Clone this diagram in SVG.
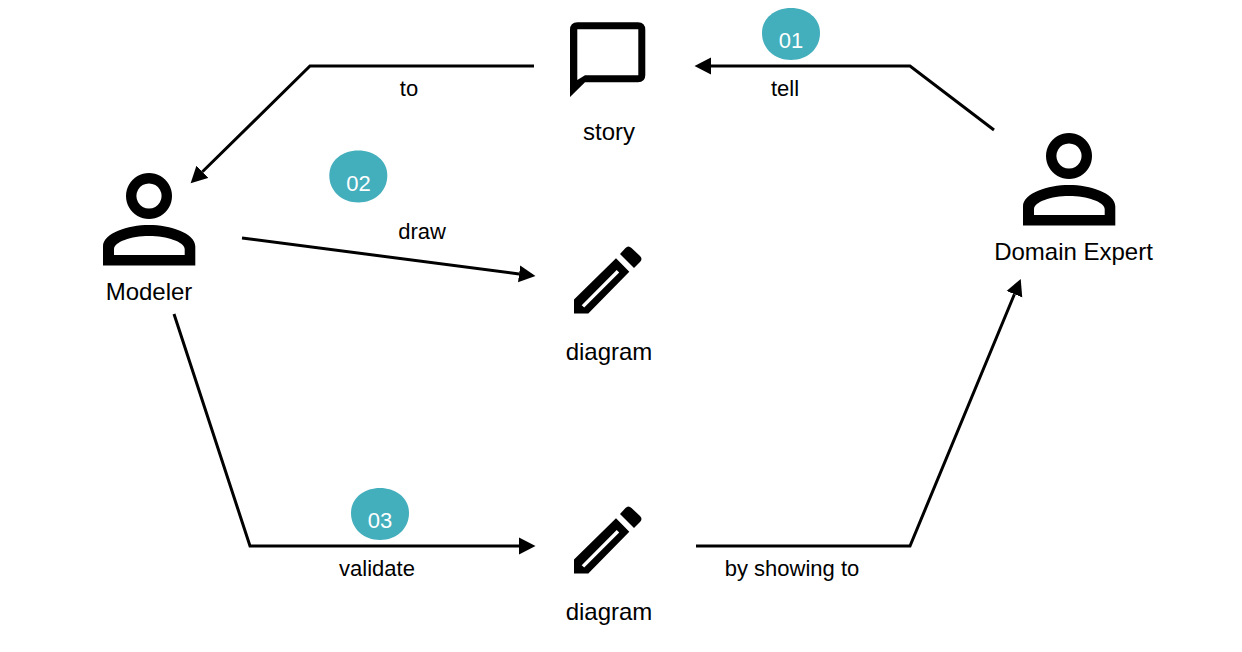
<svg xmlns="http://www.w3.org/2000/svg" width="1242" height="652" viewBox="0 0 1242 652">
<style>
text{font-family:"Liberation Sans",Arial,sans-serif;font-size:22px;fill:#000;text-anchor:middle}
.node{font-size:24px}
.num{fill:#fff}
.conn{fill:none;stroke:#000;stroke-width:3;marker-end:url(#arrow)}
.blob{fill:#43aebc}
.icon{fill:#000;fill-rule:evenodd}
</style>
<defs>
<marker id="arrow" markerUnits="userSpaceOnUse" markerWidth="18" markerHeight="18" refX="0" refY="9" orient="auto"><path d="M0,0.5L16.5,9L0,17.5Z" fill="#000"/></marker>
<path id="person" class="icon" d="M149,173a23,23 0 1 0 0.01,0ZM149,183.4a12.6,12.6 0 1 1 -0.01,0ZM103,265.5V246.5C103,233 128,225 149,225C170,225 195.3,233 195.3,246.5V265.5ZM114,255H184.7V249C184.7,242 167,236 149,236C131,236 114,242 114,249Z"/>
<g id="pencil" class="icon"><path d="M574,313.5V299.5L616,258.3L629.3,271.7L588.3,313.5ZM581.7,305.3L584.2,307.6L619.2,272.6L616.7,270Z"/><path d="M620,254L625.5,248Q628.3,245 631.5,248L640,256Q643,259 640,262L634,268Z"/></g>
<path id="blobshape" class="blob" d="M29,0C45,0 58,10 58,25C58,41 45,52 29,52C13,52 0,41 0,25C0,10 13,0 29,0Z"/>
</defs>
<g id="connectors">
<path class="conn" d="M994,130L910,66H711"/>
<path class="conn" d="M534,66H310L202.4,171.8"/>
<path class="conn" d="M242,238L519.1,273.9"/>
<path class="conn" d="M174,314L250,546H519"/>
<path class="conn" d="M696,546H910L1014.4,294.2"/>
</g>
<g id="node-story"><path class="icon" d="M570,97V30Q570,22.3 577.5,22.3H638Q645.3,22.3 645.3,30V75Q645.3,82.3 638,82.3H585ZM577.3,29.3V80L585,75.3H638.3V29.3Z"/><text class="node" x="609" y="140">story</text></g>
<g id="node-modeler"><use href="#person"/><text class="node" x="149" y="300">Modeler</text></g>
<g id="node-expert"><use href="#person" x="920" y="-40"/><text class="node" x="1073.5" y="260">Domain Expert</text></g>
<g id="node-diagram1"><use href="#pencil"/><text class="node" x="609" y="360">diagram</text></g>
<g id="node-diagram2"><use href="#pencil" y="260"/><text class="node" x="609" y="620">diagram</text></g>
<g id="labels">
<text x="409" y="96">to</text>
<text x="785" y="96">tell</text>
<text x="422" y="239">draw</text>
<text x="377" y="576">validate</text>
<text x="792" y="576">by showing to</text>
</g>
<g id="badge-01"><use href="#blobshape" x="762" y="8"/><text class="num" x="791" y="48">01</text></g>
<g id="badge-02"><use href="#blobshape" x="329.3" y="150.5"/><text class="num" x="358.5" y="191">02</text></g>
<g id="badge-03"><use href="#blobshape" x="351" y="488"/><text class="num" x="380" y="528">03</text></g>
</svg>
